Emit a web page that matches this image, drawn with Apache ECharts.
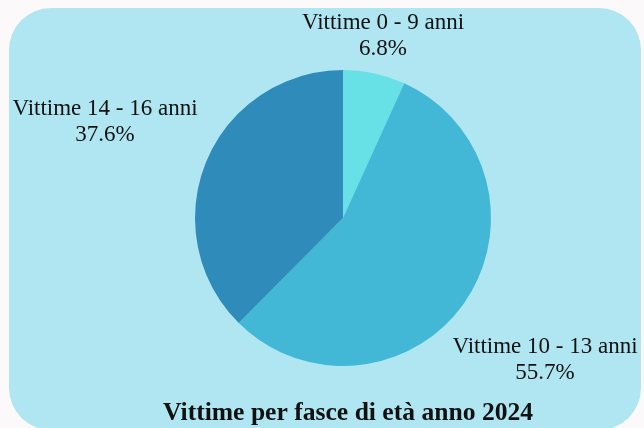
<!DOCTYPE html>
<html>
<head>
<meta charset="utf-8">
<script src="https://cdn.jsdelivr.net/npm/echarts@6/dist/echarts.min.js"></script>
<style>
html,body{margin:0;padding:0;background:#fbf9fa;}
#c{width:644px;height:428px;}
</style>
</head>
<body>
<div id="c"></div>
<script>
const categories = ["Vittime 0 - 9 anni", "Vittime 10 - 13 anni", "Vittime 14 - 16 anni"];
const values = [6.8, 55.7, 37.6];
const colors = ["#67e0e6", "#42b7d6", "#2e8bba"];
const title = "Vittime per fasce di età anno 2024";

const chart = echarts.init(document.getElementById('c'), null, {renderer: 'canvas'});
chart.setOption({
  backgroundColor: '#fbf9fa',
  animation: false,
  graphic: [{
    type: 'rect',
    shape: {x: 9, y: 8, width: 632, height: 422, r: 42},
    style: {fill: '#b0e6f1'},
    z: -10
  }],
  title: {
    text: title,
    left: 158,
    top: 395,
    textStyle: {fontFamily: 'Liberation Serif', fontWeight: 'bold', fontSize: 25.6, color: '#111'}
  },
  series: [{
    type: 'pie',
    center: [343, 218],
    radius: 148,
    startAngle: 90,
    clockwise: true,
    label: {
      show: true,
      position: 'outside',
      formatter: p => p.name + '\n' + p.value.toFixed(1) + '%',
      fontFamily: 'Liberation Serif',
      fontSize: 23,
      lineHeight: 26,
      color: '#111',
      align: 'center',
      overflow: 'none'
    },
    labelLine: {show: false},
    labelLayout: function (params) {
      const pos = [[383, 36], [545, 360], [105, 122]];
      const p = pos[params.dataIndex];
      return {x: p[0], y: p[1], align: 'center', verticalAlign: 'middle'};
    },
    data: categories.map((n, i) => ({name: n, value: values[i], itemStyle: {color: colors[i]}}))
  }]
});
</script>
</body>
</html>
